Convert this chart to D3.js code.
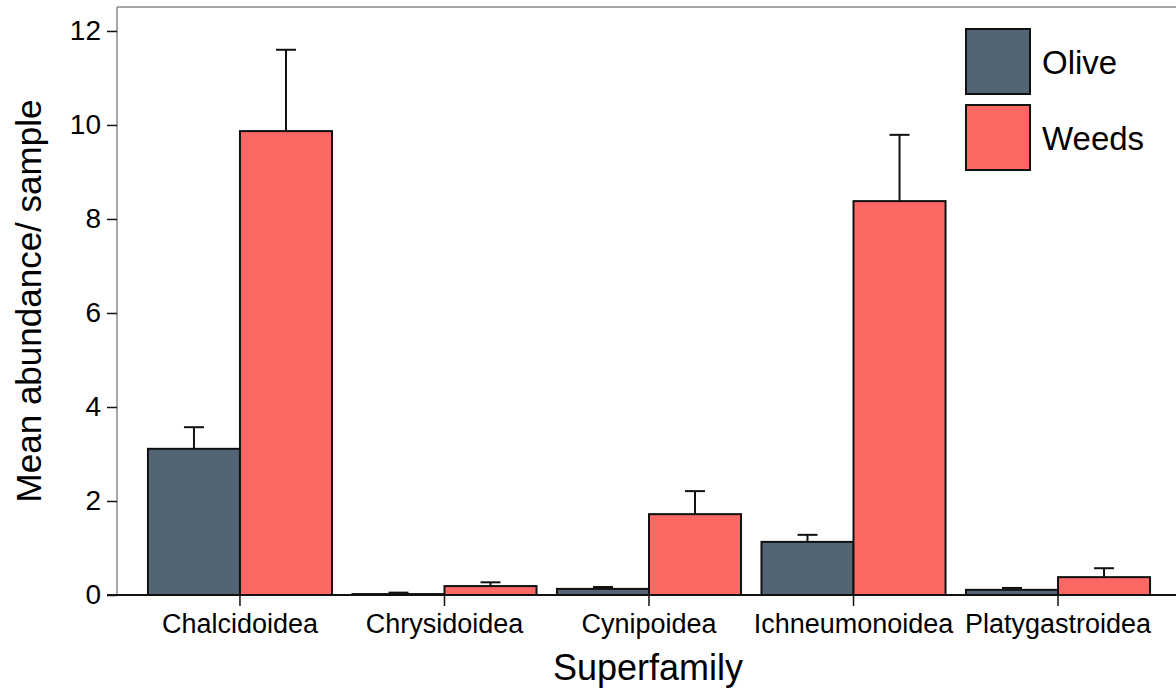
<!DOCTYPE html>
<html>
<head>
<meta charset="utf-8">
<script src="https://cdn.jsdelivr.net/npm/d3@7"></script>
<style>
  html, body { margin: 0; padding: 0; background: #fff; }
  svg { display: block; font-family: "Liberation Sans", Arial, sans-serif; }
</style>
</head>
<body>
<svg id="chart" width="1176" height="689"></svg>
<script>
// Mean abundance per sample of parasitoid superfamilies, with SE bars
const categories = ["Chalcidoidea", "Chrysidoidea", "Cynipoidea", "Ichneumonoidea", "Platygastroidea"];
const seriesNames = ["Olive", "Weeds"];
const oliveMeans = [3.11, 0.02, 0.13, 1.13, 0.11];
const oliveErrTops = [3.57, 0.05, 0.17, 1.28, 0.15];
const weedsMeans = [9.87, 0.19, 1.72, 8.38, 0.38];
const weedsErrTops = [11.60, 0.27, 2.21, 9.79, 0.57];
const yTicks = [0, 2, 4, 6, 8, 10, 12];
const colors = { Olive: "#536475", Weeds: "#fd6865" };

const FONT = "'Liberation Sans', Arial, sans-serif";
const svg = d3.select("#chart");

const y = d3.scaleLinear().domain([0, 12.51]).range([595, 7]);
const x = d3.scaleBand().domain(categories).range([127.5, 1170.5]).paddingInner(0.1).paddingOuter(0.1);
const xs = d3.scaleBand().domain(seriesNames).range([0, x.bandwidth()]);

const rows = [];
categories.forEach((c, i) => {
  rows.push({ cat: c, series: "Olive", v: oliveMeans[i], e: oliveErrTops[i] });
  rows.push({ cat: c, series: "Weeds", v: weedsMeans[i], e: weedsErrTops[i] });
});

// top frame line and left axis line
svg.append("line").attr("x1", 117).attr("x2", 1176).attr("y1", y(12.51)).attr("y2", y(12.51))
  .attr("stroke", "#8a8a8a").attr("stroke-width", 1.5);
svg.append("line").attr("x1", 117).attr("x2", 117).attr("y1", y(12.51)).attr("y2", y(0))
  .attr("stroke", "#8a8a8a").attr("stroke-width", 1.5);

// error bars (drawn first so bar outlines sit over the stems)
const eb = svg.append("g").attr("stroke", "#111").attr("stroke-width", 2);
rows.forEach(d => {
  const cx = x(d.cat) + xs(d.series) + xs.bandwidth() / 2;
  eb.append("line").attr("x1", cx).attr("x2", cx).attr("y1", y(d.v)).attr("y2", y(d.e));
  eb.append("line").attr("x1", cx - 10).attr("x2", cx + 10).attr("y1", y(d.e)).attr("y2", y(d.e));
});

// bars
svg.append("g").selectAll("rect").data(rows).join("rect")
  .attr("x", d => x(d.cat) + xs(d.series))
  .attr("y", d => y(d.v))
  .attr("width", xs.bandwidth())
  .attr("height", d => y(0) - y(d.v))
  .attr("fill", d => colors[d.series])
  .attr("stroke", "#111")
  .attr("stroke-width", 2);

// y axis ticks and labels
const yAxis = svg.append("g").attr("transform", "translate(117,0)")
  .call(d3.axisLeft(y).tickValues(yTicks).tickSize(10).tickPadding(6).tickFormat(d3.format("d")));
yAxis.select(".domain").remove();
yAxis.selectAll(".tick line").attr("stroke", "#111").attr("stroke-width", 1.5);
yAxis.selectAll(".tick text").attr("font-size", 28).attr("fill", "#000").attr("font-family", FONT);

// x axis
const xAxis = svg.append("g").attr("transform", `translate(0,${y(0)})`)
  .call(d3.axisBottom(x).tickSize(11).tickPadding(8));
xAxis.select(".domain").remove();
xAxis.selectAll(".tick line").attr("stroke", "#111").attr("stroke-width", 1.5);
xAxis.selectAll(".tick text").attr("font-size", 27).attr("fill", "#000").attr("font-family", FONT);
svg.append("line").attr("x1", 107).attr("x2", 1176).attr("y1", y(0)).attr("y2", y(0))
  .attr("stroke", "#111").attr("stroke-width", 2);

// axis titles
svg.append("text").attr("x", 648).attr("y", 680).attr("text-anchor", "middle")
  .attr("font-size", 36).text("Superfamily");
svg.append("text").attr("transform", "translate(41,301) rotate(-90)").attr("text-anchor", "middle")
  .attr("font-size", 35).text("Mean abundance/ sample");

// legend
const legend = svg.append("g");
seriesNames.forEach((s, i) => {
  const g = legend.append("g").attr("transform", `translate(966,${29 + i * 76})`);
  g.append("rect").attr("width", 64).attr("height", 65).attr("fill", colors[s])
    .attr("stroke", "#111").attr("stroke-width", 2);
  g.append("text").attr("x", 76).attr("y", 45).attr("font-size", 33).text(s);
});
</script>
</body>
</html>
